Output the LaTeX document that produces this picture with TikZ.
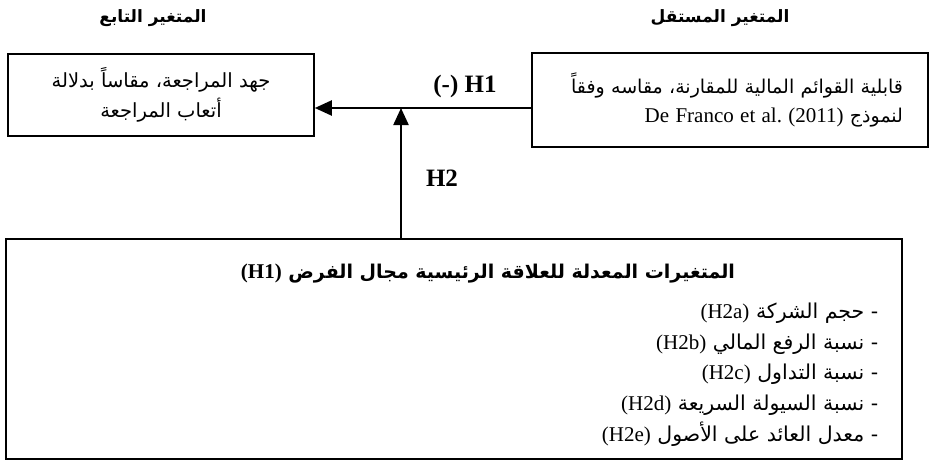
\documentclass[tikz,border=0pt]{standalone}
\usepackage{fontspec}
\setmainfont{Liberation Serif}
\newfontfamily\arabicfont[Script=Arabic]{DejaVu Sans}
\TeXXeTstate=1
\usetikzlibrary{arrows.meta}
\newcommand{\lat}[1]{\beginL\rmfamily\fontsize{21}{21}\selectfont #1\endL}

\begin{document}
\begin{tikzpicture}[x=1pt, y=-1pt, thick,
  box/.style = {draw, line width=1.6pt, inner sep=0pt},
  head/.style = {font=\arabicfont\bfseries\fontsize{17}{20}\selectfont},
  body/.style = {font=\arabicfont\fontsize{19.5}{30}\selectfont},
  hyp/.style = {font=\rmfamily\bfseries\fontsize{25}{28}\selectfont},
  arr/.style = {line width=2.2pt, -{Triangle[length=17pt, width=15pt]}}]
\useasboundingbox (0,0) rectangle (929,460);
% variables
\node[head] (deptitle) at (153,18) {\beginR المتغير التابع\endR};
\node[head] (indtitle) at (720,18) {\beginR المتغير المستقل\endR};
\node[box, body, minimum width=306pt, minimum height=82pt, align=center] (dep) at (161,95)
  {\beginR جهد المراجعة، مقاساً بدلالة\endR\\ \beginR أتعاب المراجعة\endR};
\node[box, body, font=\arabicfont\fontsize{19}{29}\selectfont, minimum width=396pt, minimum height=94pt,
  text width=346pt, align=right] (ind) at (730,100)
  {\beginR قابلية القوائم المالية للمقارنة، مقاسه وفقاً\endR\\
   \beginR لنموذج \lat{De Franco et al.\ (2011)}\endR};
% moderators
\node[box, minimum width=896pt, minimum height=220pt] (mod) at (454,349) {};
\node[head, font=\arabicfont\bfseries\fontsize{19}{22}\selectfont] (modtitle) at (488,274)
  {\beginR المتغيرات المعدلة للعلاقة الرئيسية مجال الفرض \beginL\rmfamily\bfseries\fontsize{21}{21}\selectfont(H1)\endL\endR};
\node[body, font=\arabicfont\fontsize{20.5}{30.7}\selectfont, align=right, anchor=north east] (modlist) at (882,299)
  {\beginR - حجم الشركة \lat{(H2a)}\endR\\
   \beginR - نسبة الرفع المالي \lat{(H2b)}\endR\\
   \beginR - نسبة التداول \lat{(H2c)}\endR\\
   \beginR - نسبة السيولة السريعة \lat{(H2d)}\endR\\
   \beginR - معدل العائد على الأصول \lat{(H2e)}\endR};
% hypotheses
\coordinate (jn) at (401,108);
\draw[arr] (ind.west |- jn) -- (dep.east |- jn);
\draw[arr] (mod.north -| jn) -- (jn);
\node[hyp] (h1) at (465,86) {\beginL(-) H1\endL};
\node[hyp] (h2) at (442,178) {\beginL H2\endL};
\end{tikzpicture}
\end{document}
